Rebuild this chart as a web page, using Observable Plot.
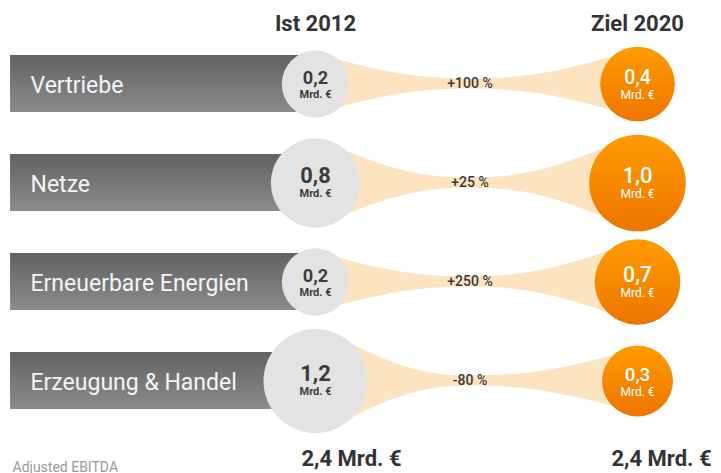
<!DOCTYPE html>
<html>
<head>
<meta charset="utf-8">
<script src="https://cdn.jsdelivr.net/npm/d3@7"></script>
<script src="https://cdn.jsdelivr.net/npm/@observablehq/plot@0.6"></script>
<style>
  html, body { margin: 0; padding: 0; background: #ffffff; }
  #chart svg { display: block; }
</style>
</head>
<body>
<div id="chart"></div>
<script>
// ---- data ----
const categories = ["Vertriebe", "Netze", "Erneuerbare Energien", "Erzeugung & Handel"];
const ist2012 = [0.2, 0.8, 0.2, 1.2];
const ziel2020 = [0.4, 1.0, 0.7, 0.3];
const changeLabels = ["+100 %", "+25 %", "+250 %", "-80 %"];
const columnLabels = ["Ist 2012", "Ziel 2020"];
const totals = ["2,4 Mrd. €", "2,4 Mrd. €"];
const unitLabel = "Mrd. €";
const footnote = "Adjusted EBITDA";

// ---- derived tables ----
const rows = categories.map((c, i) => ({cat: c, ist: ist2012[i], ziel: ziel2020[i], change: changeLabels[i]}));
const grayCircles = rows.map(r => ({cat: r.cat, col: 0, v: r.ist}));
const orangeCircles = rows.map(r => ({cat: r.cat, col: 1, v: r.ziel}));
const fmt = v => d3.format(".1f")(v).replace(".", ",");
const valueSize = d => Math.min(22, 17 + 6 * d.v);

// layout constants (in x-scale units: 0 = Ist 2012 column, 1 = Ziel 2020 column)
const BAR_LEFT = -0.947;
const WAIST = 0.48;
const FONT = "Roboto, 'DejaVu Sans', sans-serif";

// gradients
function defs() {
  const d = d3.create("svg:defs");
  const g1 = d.append("linearGradient").attr("id", "barGrad")
    .attr("x1", 0).attr("y1", 0).attr("x2", 0).attr("y2", 1);
  g1.append("stop").attr("offset", "0%").attr("stop-color", "#626262");
  g1.append("stop").attr("offset", "100%").attr("stop-color", "#8b8b8b");
  const g2 = d.append("linearGradient").attr("id", "orangeGrad")
    .attr("x1", 0).attr("y1", 0).attr("x2", 0).attr("y2", 1);
  g2.append("stop").attr("offset", "0%").attr("stop-color", "#ff9c00");
  g2.append("stop").attr("offset", "100%").attr("stop-color", "#ed7500");
  return d.node();
}

// bow-tie flows between the two circles of each row, positioned via the plot's scales
function flows(index, scales) {
  const sx = scales.x, sy = scales.y, sr = scales.r;
  const bw = typeof sy.bandwidth === "function" ? sy.bandwidth() : 0;
  const g = d3.create("svg:g").attr("fill", "#fbe4bf");
  const k = Math.SQRT1_2;
  const h = 5;
  rows.forEach(d => {
    const yc = sy(d.cat) + bw / 2;
    const x0 = sx(0), x1 = sx(1), xm = sx(WAIST);
    const r0 = sr(d.ist), r1 = sr(d.ziel);
    const ax = x0 + r0 * k, ay = r0 * k;      // left attach
    const bx = x1 - r1 * k, by = r1 * k;      // right attach
    const dxl = xm - ax, dyl = ay - h;
    const dxr = bx - xm, dyr = by - h;
    const p = d3.path();
    p.moveTo(x0, yc - ay);
    p.lineTo(ax, yc - ay);
    p.bezierCurveTo(ax + 0.4 * dxl, yc - ay + 0.75 * dyl, xm - 0.35 * dxl, yc - h, xm, yc - h);
    p.bezierCurveTo(xm + 0.35 * dxr, yc - h, bx - 0.4 * dxr, yc - by + 0.75 * dyr, bx, yc - by);
    p.lineTo(x1, yc - by);
    p.lineTo(x1, yc + by);
    p.lineTo(bx, yc + by);
    p.bezierCurveTo(bx - 0.4 * dxr, yc + by - 0.75 * dyr, xm + 0.35 * dxr, yc + h, xm, yc + h);
    p.bezierCurveTo(xm - 0.35 * dxl, yc + h, ax + 0.4 * dxl, yc + ay - 0.75 * dyl, ax, yc + ay);
    p.lineTo(x0, yc + ay);
    p.closePath();
    g.append("path").attr("d", p.toString());
  });
  return g.node();
}

const chart = Plot.plot({
  width: 721,
  height: 473,
  margin: 0,
  style: {fontFamily: FONT, background: "#ffffff"},
  x: {type: "linear", domain: [0, 1], range: [315, 637], axis: null},
  y: {type: "band", domain: categories, range: [34.5, 430.5], paddingInner: 0.424, paddingOuter: 0.212, axis: null},
  r: {type: "linear", domain: [0, 1.2], range: [30, 52]},
  marks: [
    defs,
    // category bars
    Plot.barX(rows, {y: "cat", x1: BAR_LEFT, x2: 0, fill: "url(#barGrad)"}),
    Plot.text(rows, {
      y: "cat", text: "cat", frameAnchor: "left", dx: 30, dy: 2,
      textAnchor: "start", lineAnchor: "middle",
      fontSize: 23, fill: "#f3f5f8", style: "letter-spacing:0.4px"
    }),
    // flows
    flows,
    // circles
    Plot.dot(grayCircles, {x: "col", y: "cat", r: "v", fill: "#e3e3e3"}),
    Plot.dot(orangeCircles, {x: "col", y: "cat", r: "v", fill: "url(#orangeGrad)"}),
    // circle values
    Plot.text(grayCircles, {
      x: "col", y: "cat", text: d => fmt(d.v), lineAnchor: "bottom", dy: 0,
      fontSize: valueSize, fontWeight: 700, fill: "#3b3b3b"
    }),
    Plot.text(grayCircles, {
      x: "col", y: "cat", text: () => unitLabel, lineAnchor: "bottom", dy: 14,
      fontSize: 11, fontWeight: 700, fill: "#3b3b3b", style: "letter-spacing:1px"
    }),
    Plot.text(orangeCircles, {
      x: "col", y: "cat", text: d => fmt(d.v), lineAnchor: "bottom", dy: 0,
      fontSize: valueSize, fontWeight: 500, fill: "#ffffff"
    }),
    Plot.text(orangeCircles, {
      x: "col", y: "cat", text: () => unitLabel, lineAnchor: "bottom", dy: 15,
      fontSize: 12, fontWeight: 400, fill: "#ffffff", style: "letter-spacing:1px"
    }),
    // change labels
    Plot.text(rows, {
      x: WAIST, y: "cat", text: "change", lineAnchor: "middle",
      fontSize: 14, fontWeight: 500, fill: "#3a3a3a"
    }),
    // column headers
    Plot.text(columnLabels, {
      x: (d, i) => i, text: d => d, frameAnchor: "top", lineAnchor: "top", dy: 15,
      fontSize: 22, fontWeight: 700, fill: "#333333"
    }),
    // totals
    Plot.text([totals[0]], {
      x: 0, text: d => d, frameAnchor: "top", lineAnchor: "top", dy: 450, dx: 36,
      fontSize: 22, fontWeight: 700, fill: "#333333", style: "letter-spacing:2px"
    }),
    Plot.text([totals[1]], {
      x: 1, text: d => d, frameAnchor: "top", lineAnchor: "top", dy: 450, dx: 24,
      fontSize: 22, fontWeight: 700, fill: "#333333", style: "letter-spacing:2px"
    }),
    // footnote
    Plot.text([footnote], {
      text: d => d, frameAnchor: "bottom-left", dx: 12, dy: -2,
      textAnchor: "start", lineAnchor: "bottom",
      fontSize: 14, fill: "#9a9a9a"
    })
  ]
});
document.getElementById("chart").appendChild(chart);
</script>
</body>
</html>
